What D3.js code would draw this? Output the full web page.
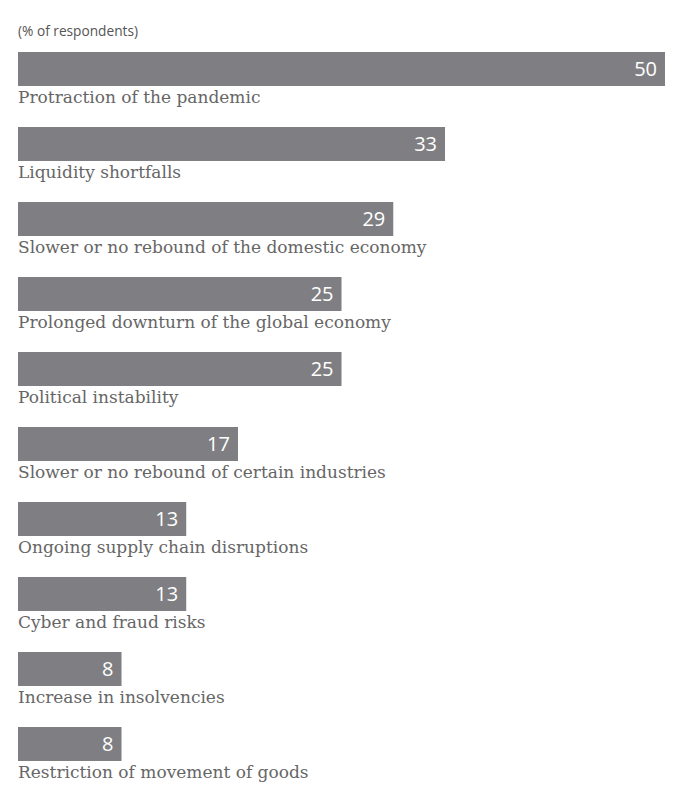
<!DOCTYPE html>
<html>
<head>
<meta charset="utf-8">
<script src="https://cdn.jsdelivr.net/npm/d3@7"></script>
<style>
  body { margin: 0; background: #fff; }
</style>
</head>
<body>
<script>
const categories = [
    "Protraction of the pandemic",
    "Liquidity shortfalls",
    "Slower or no rebound of the domestic economy",
    "Prolonged downturn of the global economy",
    "Political instability",
    "Slower or no rebound of certain industries",
    "Ongoing supply chain disruptions",
    "Cyber and fraud risks",
    "Increase in insolvencies",
    "Restriction of movement of goods"
];
const values = [50, 33, 29, 25, 25, 17, 13, 13, 8, 8];
const subtitle = "(% of respondents)";

const width = 677, height = 787;
const barColor = "#7f7f83";

const svg = d3.select("body").append("svg")
    .attr("width", width)
    .attr("height", height);

// Scales
const x = d3.scaleLinear()
    .domain([0, 50])
    .range([18, 665]);
const y = d3.scaleBand()
    .domain(categories)
    .range([52, 802])
    .paddingInner(0);
const barH = 34;

// Subtitle
svg.append("text")
    .attr("x", 18)
    .attr("y", 35.5)
    .attr("font-family", "'Open Sans', sans-serif")
    .attr("font-size", 13.7)
    .attr("fill", "#555")
    .text(subtitle);

const rows = svg.selectAll("g.row")
    .data(categories)
    .enter()
    .append("g")
        .attr("class", "row")
        .attr("transform", d => `translate(0, ${y(d)})`);

rows.append("rect")
    .attr("x", x(0))
    .attr("y", 0)
    .attr("width", (d, i) => x(values[i]) - x(0))
    .attr("height", barH)
    .attr("fill", barColor);

// Value labels inside bars
rows.append("text")
    .attr("x", (d, i) => x(values[i]) - 8)
    .attr("y", 24)
    .attr("text-anchor", "end")
    .attr("font-family", "'Open Sans', sans-serif")
    .attr("font-size", 20)
    .attr("fill", "#fff")
    .text((d, i) => values[i]);

// Category labels under bars
rows.append("text")
    .attr("x", 18)
    .attr("y", 51)
    .attr("font-family", "'DejaVu Serif', serif")
    .attr("font-size", 17)
    .attr("fill", "#666")
    .text(d => d);
</script>
</body>
</html>
